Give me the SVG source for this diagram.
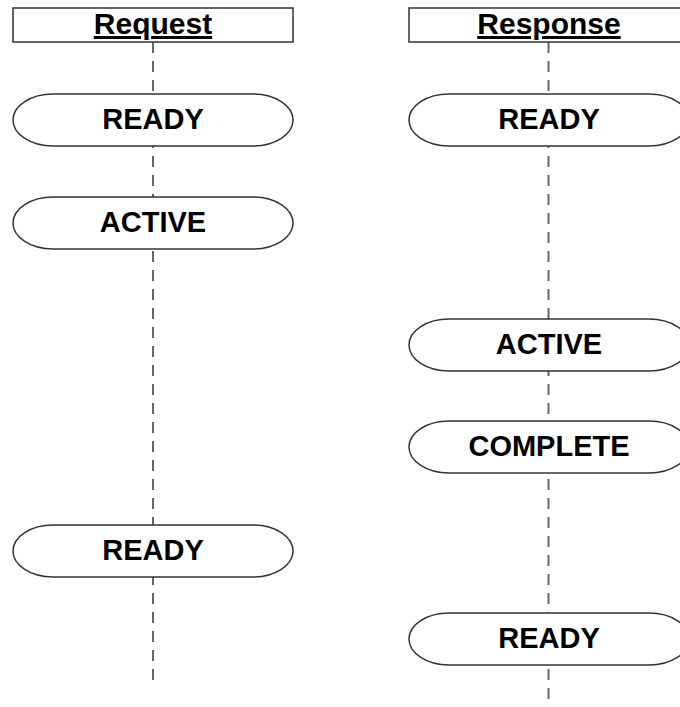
<svg xmlns="http://www.w3.org/2000/svg" width="680" height="707" viewBox="0 0 680 707">
<style>
.life{stroke:#666;stroke-width:2;stroke-dasharray:11 8;fill:none}
.hdr{fill:#fff;stroke:#333;stroke-width:1.5}
.cap{fill:#fff;stroke:#333;stroke-width:1.5}
.ht{font-family:"Liberation Sans",Arial,sans-serif;font-weight:bold;font-size:30px;text-anchor:middle;text-decoration:underline;fill:#000}
.st{font-family:"Liberation Sans",Arial,sans-serif;font-weight:bold;font-size:29px;text-anchor:middle;fill:#000}
</style>
<rect width="680" height="707" fill="#fff"/>
<g id="connectors">
<line class="life" x1="153" y1="42" x2="153" y2="688"/>
<line class="life" x1="548.5" y1="42" x2="548.5" y2="707"/>
</g>
<g id="request-header"><rect class="hdr" x="13" y="8" width="280" height="34"/><text class="ht" x="153" y="34">Request</text></g>
<g id="response-header"><rect class="hdr" x="409" y="8" width="285" height="34"/><text class="ht" x="549" y="34">Response</text></g>
<g id="req-ready1"><rect class="cap" x="13" y="94" width="280" height="52" rx="40" ry="26"/><text class="st" x="153" y="128.5">READY</text></g>
<g id="req-active"><rect class="cap" x="13" y="197" width="280" height="52" rx="40" ry="26"/><text class="st" x="153" y="231.5">ACTIVE</text></g>
<g id="req-ready2"><rect class="cap" x="13" y="525" width="280" height="52" rx="40" ry="26"/><text class="st" x="153" y="559.5">READY</text></g>
<g id="resp-ready1"><rect class="cap" x="409" y="94" width="280" height="52" rx="40" ry="26"/><text class="st" x="549" y="128.5">READY</text></g>
<g id="resp-active"><rect class="cap" x="409" y="319" width="280" height="52" rx="40" ry="26"/><text class="st" x="549" y="353.5">ACTIVE</text></g>
<g id="resp-complete"><rect class="cap" x="409" y="421" width="280" height="52" rx="40" ry="26"/><text class="st" x="549" y="455.5">COMPLETE</text></g>
<g id="resp-ready2"><rect class="cap" x="409" y="613" width="280" height="52" rx="40" ry="26"/><text class="st" x="549" y="647.5">READY</text></g>
</svg>
